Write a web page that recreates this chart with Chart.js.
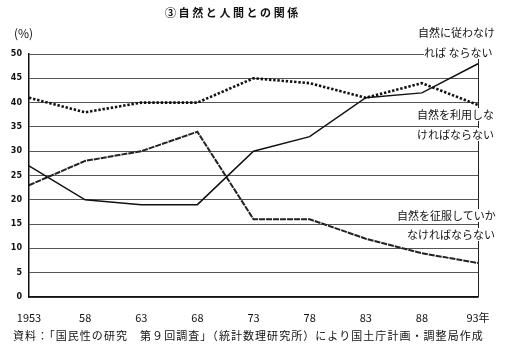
<!DOCTYPE html>
<html><head><meta charset="utf-8">
<script src="https://cdn.jsdelivr.net/npm/chart.js@4/dist/chart.umd.min.js"></script>
<style>
body{margin:0;background:#fff;width:513px;height:357px;overflow:hidden;position:relative;font-family:"Noto Sans CJK JP",sans-serif;}
canvas{position:absolute;left:0;top:0;}
.t{position:absolute;white-space:nowrap;color:#111;line-height:1;}
.lb{background:#fff;font-size:11px;padding:1px 0;}
</style></head><body>
<canvas id="c" width="513" height="357"></canvas>
<div class="t" style="left:165px;top:7px;font-size:11px;font-weight:bold;letter-spacing:2.6px;">③自然と人間との関係</div>
<div class="t" style="left:14px;top:27px;font-size:12px;">(%)</div>
<div class="t lb" style="left:418px;top:26px;">自然に従わなけ</div>
<div class="t lb" style="left:424px;top:46px;">れば ならない</div>
<div class="t lb" style="left:417px;top:108px;">自然を利用しな</div>
<div class="t lb" style="left:417px;top:128px;">ければならない</div>
<div class="t lb" style="left:397px;top:209px;">自然を征服していか</div>
<div class="t lb" style="left:407px;top:228px;">なければならない</div>
<div class="t" style="left:13px;top:330px;font-size:11px;letter-spacing:1.05px;">資料：「国民性の研究　第９回調査」（統計数理研究所）により国土庁計画・調整局作成</div>
<script>
const years = ['1953','58','63','68','73','78','83','88','93年'];
const shitagau = [27,20,19,19,30,33,41,42,48];
const riyou = [41,38,40,40,45,44,41,44,39.5];
const seifuku = [23,28,30,34,16,16,12,9,7];
const yMin = 0, yMax = 50, yStep = 5;

const rightBorder = {
  id:'rightBorder',
  beforeDatasetsDraw(chart){
    const {ctx, chartArea:a} = chart;
    ctx.save();
    ctx.strokeStyle='#222'; ctx.lineWidth=1;
    ctx.beginPath(); ctx.moveTo(Math.round(a.right)+0.5,a.top); ctx.lineTo(Math.round(a.right)+0.5,a.bottom); ctx.stroke();
    ctx.restore();
  }
};

new Chart(document.getElementById('c'), {
  type:'line',
  data:{
    labels: years,
    datasets:[
      {label:'自然に従わなければならない', data:shitagau, borderColor:'#111', borderWidth:1.5, pointRadius:0, tension:0, fill:false},
      {label:'自然を利用しなければならない', data:riyou, borderColor:'#111', borderWidth:2.6, borderDash:[2.4,1.8], borderCapStyle:'butt', pointRadius:0, tension:0, fill:false},
      {label:'自然を征服していかなければならない', data:seifuku, borderColor:'#222', borderWidth:2, borderDash:[6,1], pointRadius:0, tension:0, fill:false}
    ]
  },
  options:{
    responsive:false, animation:false, devicePixelRatio:1,
    layout:{padding:{top:54,right:35,left:0,bottom:0}},
    plugins:{legend:{display:false}, tooltip:{enabled:false}},
    scales:{
      x:{
        type:'category', offset:false,
        grid:{display:true, drawOnChartArea:false, drawTicks:false},
        border:{display:true,color:'#111',width:1.5},
        ticks:{color:'#111', font:{family:'"Noto Sans CJK JP"', size:11}, padding:14, maxRotation:0, autoSkip:false},
        afterFit(s){ s.height = 60; }
      },
      y:{
        min:yMin, max:yMax,
        grid:{color:'#555', lineWidth:1, drawTicks:false},
        border:{display:true,color:'#111',width:1.5},
        ticks:{stepSize:yStep, color:'#111', font:{family:'"DejaVu Sans"', size:8, weight:'bold'}, padding:7},
        afterFit(s){ s.width = 29; }
      }
    }
  },
  plugins:[rightBorder]
});
</script>
</body></html>
